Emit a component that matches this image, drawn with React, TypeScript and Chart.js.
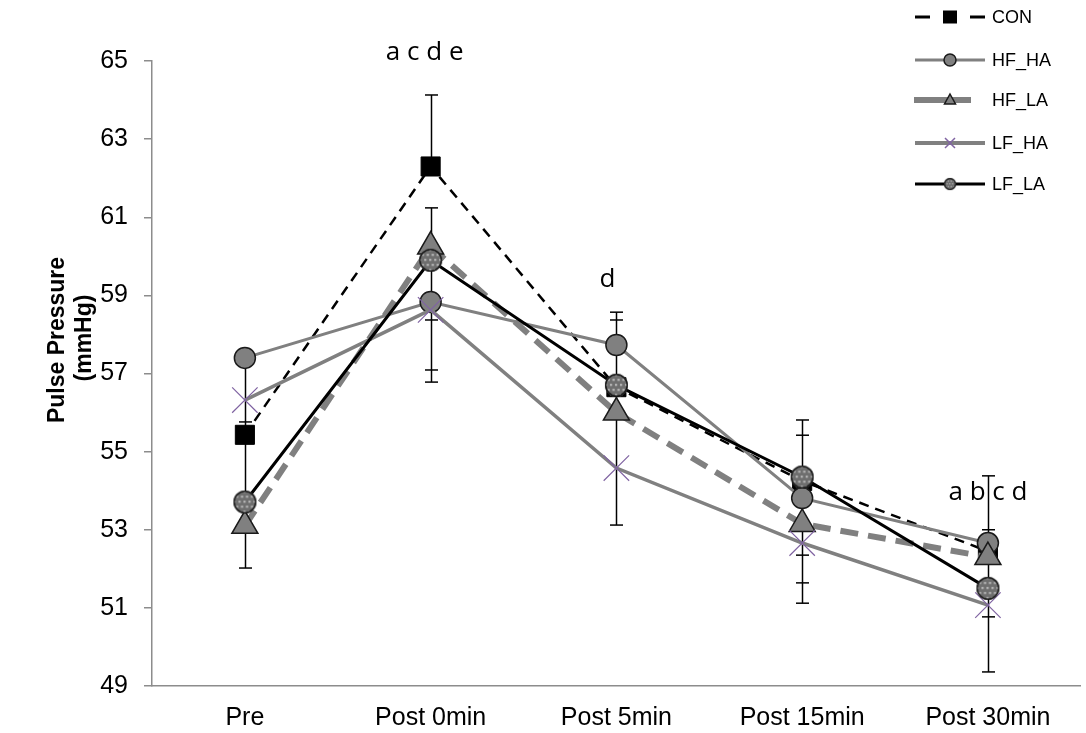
import React, { useEffect, useRef } from 'react';
import { Chart, registerables } from 'chart.js';

Chart.register(...registerables);

// Time points and group means (mmHg)
const categories = ['Pre', 'Post 0min', 'Post 5min', 'Post 15min', 'Post 30min'];
const conValues = [55.43, 62.3, 56.65, 54.25, 52.45];
const hfHaValues = [57.4, 58.83, 57.73, 53.81, 52.66];
const hfLaValues = [53.1, 60.25, 56.0, 53.15, 52.3];
const lfHaValues = [56.32, 58.63, 54.58, 52.66, 51.07];
const lfLaValues = [53.71, 59.9, 56.7, 54.35, 51.5];

const seriesNames = ['CON', 'HF_HA', 'HF_LA', 'LF_HA', 'LF_LA'];

// Error bars: vertical runs [low, high] and cap levels at each time point
const errorRuns = [
  [[52.02, 57.4]],
  [[62.3, 64.13], [56.78, 61.24]],
  [[53.12, 58.57]],
  [[51.12, 55.81]],
  [[49.36, 54.38]],
];
const errorCaps = [
  [55.76, 52.02],
  [64.13, 61.24, 58.37, 57.09, 56.78],
  [58.57, 58.37, 53.12],
  [55.81, 55.42, 52.35, 51.64, 51.12],
  [54.38, 53.0, 50.77, 49.36],
];

// Significance letters and the baseline level they are written at
const significanceLabels = ['', 'a c d e', 'd', '', 'a b c d'];
const significanceLevels = [null, 65.03, 59.21, null, 53.76];

// Y axis range
const yMin = 49;
const yMax = 65;
const yStep = 2;

const GRAY = '#808080';
const PURPLE = '#8064A2';
const AXIS_FONT = '"Liberation Sans", Arial, sans-serif';

// small horizontal nudges (px) for the significance letters
const letterNudge = [0, -6, -9, 0, 0];

function makeDottedDisc(r: number): HTMLCanvasElement {
  const size = Math.ceil(r * 2 + 2);
  const c = document.createElement('canvas');
  c.width = size;
  c.height = size;
  const g = c.getContext('2d')!;
  const cx = size / 2;
  g.beginPath();
  g.arc(cx, cx, r, 0, Math.PI * 2);
  g.fillStyle = '#6e6e6e';
  g.fill();
  g.save();
  g.clip();
  g.fillStyle = '#b4b4b4';
  const step = Math.max(3, r / 2.3);
  let row = 0;
  for (let yy = 1; yy < size; yy += step, row++) {
    for (let xx = 1 + (row % 2 ? step / 2 : 0); xx < size; xx += step) {
      g.fillRect(xx, yy, step * 0.45, step * 0.45);
    }
  }
  g.restore();
  g.beginPath();
  g.arc(cx, cx, r - 0.75, 0, Math.PI * 2);
  g.strokeStyle = '#1a1a1a';
  g.lineWidth = 1.5;
  g.stroke();
  return c;
}

function drawLegendMarker(ctx: CanvasRenderingContext2D, kind: string, x: number, y: number, disc: HTMLCanvasElement) {
  ctx.save();
  ctx.lineWidth = 1.5;
  ctx.strokeStyle = '#1a1a1a';
  if (kind === 'CON') {
    ctx.fillStyle = '#000';
    ctx.fillRect(x - 7, y - 6.5, 14, 13);
  } else if (kind === 'HF_HA') {
    ctx.beginPath();
    ctx.arc(x, y, 6, 0, Math.PI * 2);
    ctx.fillStyle = GRAY;
    ctx.fill();
    ctx.stroke();
  } else if (kind === 'HF_LA') {
    ctx.beginPath();
    ctx.moveTo(x, y - 6);
    ctx.lineTo(x + 5.5, y + 4);
    ctx.lineTo(x - 5.5, y + 4);
    ctx.closePath();
    ctx.fillStyle = GRAY;
    ctx.fill();
    ctx.stroke();
  } else if (kind === 'LF_HA') {
    ctx.strokeStyle = PURPLE;
    ctx.lineWidth = 1.5;
    ctx.beginPath();
    ctx.moveTo(x - 5, y - 5);
    ctx.lineTo(x + 5, y + 5);
    ctx.moveTo(x + 5, y - 5);
    ctx.lineTo(x - 5, y + 5);
    ctx.stroke();
  } else {
    ctx.drawImage(disc, x - 7, y - 7, 14, 14);
  }
  ctx.restore();
}

export default function App() {
  const canvasRef = useRef<HTMLCanvasElement | null>(null);

  useEffect(() => {
    document.body.style.margin = '0';
    const canvas = canvasRef.current;
    if (!canvas) return;

    const bigDisc = makeDottedDisc(11.5);
    const smallDisc = makeDottedDisc(7);

    const errorBarPlugin = {
      id: 'errorBars',
      beforeDatasetsDraw(chart: any) {
        const { ctx, scales } = chart;
        const xs = scales.x;
        const ys = scales.y;
        ctx.save();
        ctx.strokeStyle = '#000';
        ctx.lineWidth = 1.5;
        categories.forEach((_, i) => {
          const px = Math.round(xs.getPixelForValue(i)) + 0.5;
          errorRuns[i].forEach(([lo, hi]) => {
            ctx.beginPath();
            ctx.moveTo(px, ys.getPixelForValue(lo));
            ctx.lineTo(px, ys.getPixelForValue(hi));
            ctx.stroke();
          });
          errorCaps[i].forEach((v) => {
            const py = ys.getPixelForValue(v);
            ctx.beginPath();
            ctx.moveTo(px - 6.5, py);
            ctx.lineTo(px + 6.5, py);
            ctx.stroke();
          });
        });
        ctx.restore();
      },
    };

    const decorPlugin = {
      id: 'decor',
      afterDraw(chart: any) {
        const { ctx, scales } = chart;
        const xs = scales.x;
        const ys = scales.y;
        ctx.save();

        // significance letters
        ctx.fillStyle = '#000';
        ctx.font = '26px "Open Sans", sans-serif';
        ctx.textAlign = 'center';
        ctx.textBaseline = 'alphabetic';
        significanceLabels.forEach((t, i) => {
          const lvl = significanceLevels[i];
          if (!t || lvl === null) return;
          ctx.fillText(t, xs.getPixelForValue(i) + letterNudge[i], ys.getPixelForValue(lvl));
        });

        // y axis title, two rotated lines
        ctx.textBaseline = 'middle';
        ctx.font = 'bold 23px ' + AXIS_FONT;
        ctx.save();
        ctx.translate(58, 340);
        ctx.rotate(-Math.PI / 2);
        ctx.fillText('Pulse Pressure', 0, 0);
        ctx.restore();
        ctx.save();
        ctx.translate(85, 338);
        ctx.rotate(-Math.PI / 2);
        ctx.fillText('(mmHg)', 0, 0);
        ctx.restore();

        // legend
        const rowY = [17, 60, 100, 143, 184];
        const x0 = 915;
        const x1 = 985;
        const mx = 950;
        ctx.font = '18px ' + AXIS_FONT;
        ctx.textAlign = 'left';
        seriesNames.forEach((name, i) => {
          const y = rowY[i];
          ctx.save();
          ctx.lineCap = 'butt';
          if (name === 'CON') {
            ctx.strokeStyle = '#000';
            ctx.lineWidth = 3;
            ctx.beginPath();
            ctx.moveTo(x0, y);
            ctx.lineTo(x0 + 15, y);
            ctx.moveTo(x1 - 15, y);
            ctx.lineTo(x1, y);
            ctx.stroke();
          } else if (name === 'HF_LA') {
            ctx.strokeStyle = GRAY;
            ctx.lineWidth = 6;
            ctx.beginPath();
            ctx.moveTo(x0 - 1, y);
            ctx.lineTo(x1 - 14, y);
            ctx.stroke();
          } else {
            ctx.strokeStyle = name === 'LF_LA' ? '#000' : GRAY;
            ctx.lineWidth = name === 'LF_HA' ? 4 : 3;
            ctx.beginPath();
            ctx.moveTo(x0, y);
            ctx.lineTo(x1, y);
            ctx.stroke();
          }
          ctx.restore();
          drawLegendMarker(ctx, name, mx, y, smallDisc);
          ctx.fillStyle = '#000';
          ctx.fillText(name, 992, y + 1);
        });
        ctx.restore();
      },
    };

    const chart = new Chart(canvas, {
      type: 'line',
      data: {
        labels: categories,
        datasets: [
          {
            label: seriesNames[0],
            data: conValues,
            borderColor: '#000',
            borderWidth: 2.5,
            borderDash: [10, 7],
            pointStyle: 'rect',
            pointRadius: 13.5,
            pointBackgroundColor: '#000',
            pointBorderColor: '#000',
            pointBorderWidth: 1,
            order: 5,
          },
          {
            label: seriesNames[1],
            data: hfHaValues,
            borderColor: GRAY,
            borderWidth: 3,
            pointStyle: 'circle',
            pointRadius: 10.5,
            pointBackgroundColor: GRAY,
            pointBorderColor: '#1a1a1a',
            pointBorderWidth: 1.5,
            order: 4,
          },
          {
            label: seriesNames[2],
            data: hfLaValues,
            borderColor: GRAY,
            borderWidth: 6,
            borderDash: [18, 10],
            pointStyle: 'triangle',
            pointRadius: 15,
            pointBackgroundColor: GRAY,
            pointBorderColor: '#1a1a1a',
            pointBorderWidth: 1.5,
            order: 3,
          },
          {
            label: seriesNames[3],
            data: lfHaValues,
            borderColor: GRAY,
            borderWidth: 3.5,
            pointStyle: 'crossRot',
            pointRadius: 18,
            pointBackgroundColor: PURPLE,
            pointBorderColor: PURPLE,
            pointBorderWidth: 1.2,
            order: 2,
          },
          {
            label: seriesNames[4],
            data: lfLaValues,
            borderColor: '#000',
            borderWidth: 3,
            pointStyle: bigDisc as any,
            pointRadius: 12,
            order: 1,
          },
        ],
      },
      options: {
        animation: false,
        responsive: false,
        devicePixelRatio: 1,
        layout: { padding: { top: 61, right: 2.5, left: 0, bottom: 0 } },
        elements: { line: { tension: 0 } },
        plugins: {
          legend: { display: false },
          tooltip: { enabled: false },
        },
        scales: {
          x: {
            type: 'category',
            offset: true,
            grid: { display: false, drawTicks: false },
            border: { display: true, color: '#8c8c8c', width: 1.5 },
            ticks: {
              color: '#000',
              font: { family: AXIS_FONT, size: 25 },
              padding: 17,
              maxRotation: 0,
              autoSkip: false,
            },
            afterFit: (s: any) => {
              s.height = 47;
            },
          },
          y: {
            min: yMin,
            max: yMax,
            grid: { drawOnChartArea: false, drawTicks: true, tickLength: 8, color: '#8c8c8c', lineWidth: 1.5 },
            border: { display: true, color: '#8c8c8c', width: 1.5 },
            ticks: {
              stepSize: yStep,
              color: '#000',
              font: { family: AXIS_FONT, size: 25 },
              padding: 16,
            },
            afterFit: (s: any) => {
              s.width = 152;
            },
          },
        },
      },
      plugins: [errorBarPlugin, decorPlugin],
    });

    return () => {
      chart.destroy();
    };
  }, []);

  return (
    <div style={{ position: 'relative', width: 1086, height: 733, overflow: 'hidden', background: '#fff' }}>
      <canvas
        ref={canvasRef}
        width={1100}
        height={733}
        style={{ position: 'absolute', left: 0, top: 0, width: 1100, height: 733 }}
      />
    </div>
  );
}
